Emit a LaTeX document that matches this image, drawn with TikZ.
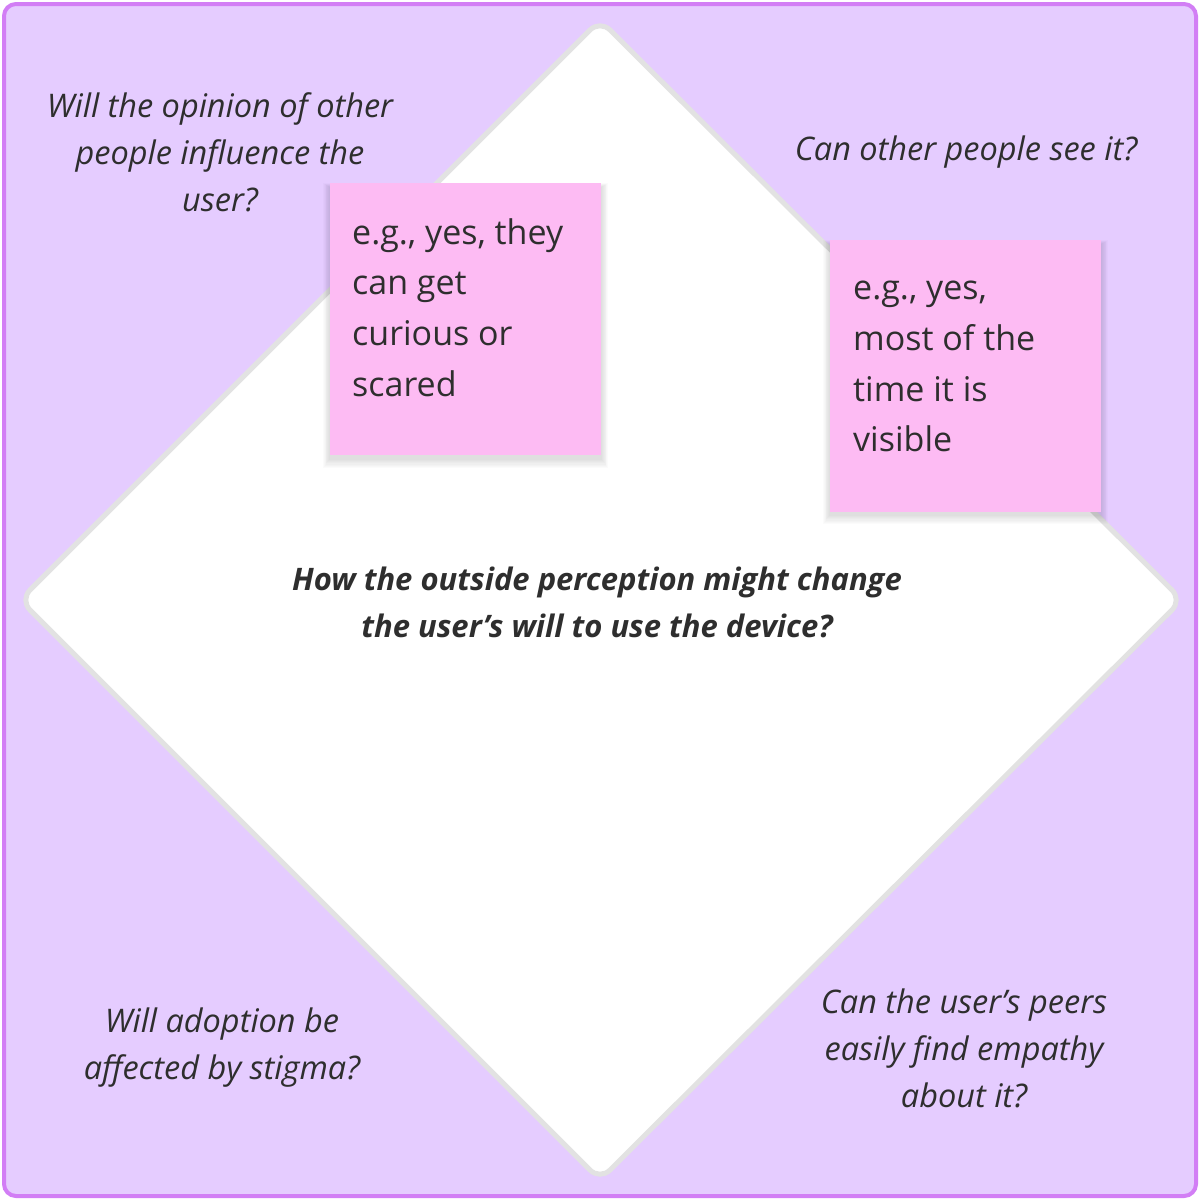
\documentclass[tikz,border=0pt]{standalone}
\usepackage{fontspec}
\setmainfont{Open Sans}
\definecolor{bgpurple}{HTML}{E5CCFF}
\definecolor{borderpurple}{HTML}{D27EF5}
\definecolor{diamondgrey}{HTML}{E2E2E2}
\definecolor{notepink}{HTML}{FDBBF3}
\definecolor{txt}{HTML}{2E2E2E}
\newcommand{\softshadow}[2]{%
  \foreach \k in {1,...,8}{
    \fill[black,opacity=0.016] ($(#1)+(-\k*0.9,-\k*0.5+4)$) rectangle ($(#2)+(\k*0.9,\k*1.1+4)$);
  }}
\usetikzlibrary{calc}
\begin{document}
\begin{tikzpicture}[x=1pt,y=-1pt,
  question/.style={text=txt,align=center,inner sep=0pt,font=\fontsize{32.5}{47}\selectfont\itshape},
  central/.style={text=txt,align=center,inner sep=0pt,font=\fontsize{31}{47}\selectfont\bfseries\itshape},
  note/.style={fill=notepink,minimum width=271pt,minimum height=272pt,inner sep=0pt,anchor=north west},
  notetext/.style={text=txt,align=left,inner sep=0pt,anchor=north west,font=\fontsize{34}{50.7}\selectfont}]
\useasboundingbox (0,0) rectangle (1200,1200);
\fill[bgpurple,draw=borderpurple,line width=4pt,rounded corners=12pt] (4,4) rectangle (1196,1196);
\filldraw[fill=white,draw=diamondgrey,line width=5pt,rounded corners=14pt]
  (600,20) -- (1182,600) -- (600,1180) -- (20,600) -- cycle;
\softshadow{330,183}{601,455}
\softshadow{830,240}{1101,511}
\node[note] (n1) at (330,183) {};
\node[note] (n2) at (830,240) {};
\node[notetext] (t1) at (352,218) {e.g., yes, they\\can get\\curious or\\scared};
\node[notetext] (t2) at (853,281) {e.g., yes,\\most of the\\time it is\\visible};
\node[question] (q1) at (220,152) {Will the opinion of other\\people influence the\\user?};
\node[question] (q2) at (966,152) {Can other people see it?};
\node[question] (q3) at (222,1048) {Will adoption be\\affected by stigma?};
\node[question] (q4) at (964,1048) {Can the user’s peers\\easily find empathy\\about it?};
\node[central] (c) at (597,602) {How the outside perception might change\\the user’s will to use the device?};
\end{tikzpicture}
\end{document}
